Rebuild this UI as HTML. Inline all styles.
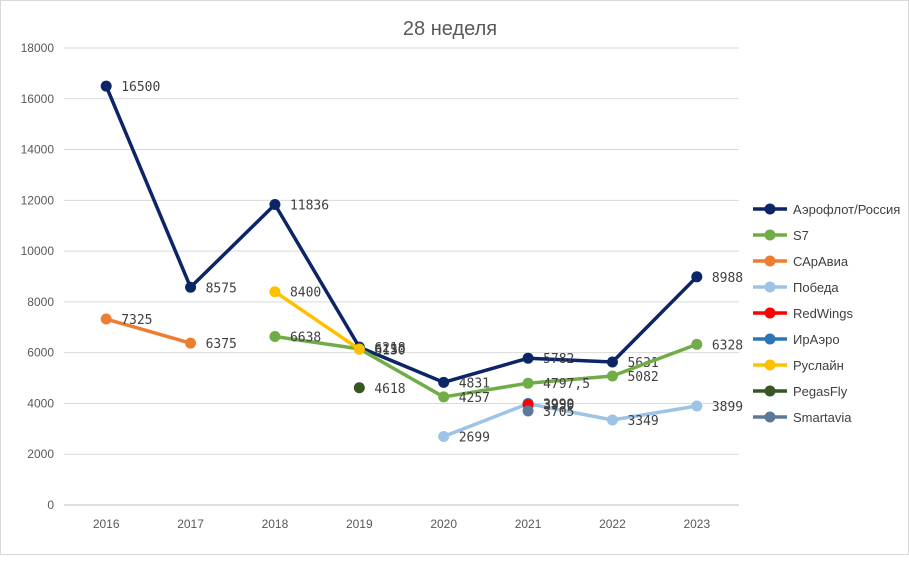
<!DOCTYPE html>
<html><head><meta charset="utf-8"><style>
body{margin:0;background:#fff;font-family:"Liberation Sans","DejaVu Sans",sans-serif}
#chart{position:absolute;left:0;top:0;width:909px;height:555px;border:1px solid #d9d9d9;box-sizing:border-box}
</style></head><body>
<div id="chart">
<svg id="svg" width="909" height="555"></svg>
</div>
<script>
const years=["2016","2017","2018","2019","2020","2021","2022","2023"];
const yTicks=[0,2000,4000,6000,8000,10000,12000,14000,16000,18000];
const seriesNames=["Аэрофлот/Россия","S7","САрАвиа","Победа","RedWings","ИрАэро","Руслайн","PegasFly","Smartavia"];
const seriesColors=["#0b2566","#70ad47","#ed7d31","#9dc3e6","#ff0000","#2e75b6","#ffc000","#375623","#5b7a9a"];
const aeroflot=[16500,8575,11836,6218,4831,5782,5631,8988];
const s7=[null,null,6638,6150,4257,4797.5,5082,6328];
const saravia=[7325,6375,null,null,null,null,null,null];
const pobeda=[null,null,null,null,2699,3990,3349,3899];
const redwings=[null,null,null,null,null,3950,null,null];
const iraero=[null,null,null,null,null,3999,null,null];
const ruslain=[null,null,8400,6130,null,null,null,null];
const pegasfly=[null,null,null,4618,null,null,null,null];
const smartavia=[null,null,null,null,null,3705,null,null];
const seriesData=[aeroflot,s7,saravia,pobeda,iraero,redwings,ruslain,pegasfly,smartavia];
const seriesIdx=[0,1,2,3,5,4,6,7,8];

const NS="http://www.w3.org/2000/svg";
const svg=document.getElementById('svg');
const L=63,R=738,T=47,B=504,yMax=18000;
const step=(R-L)/years.length;
const xS=i=>L+step*(i+0.5);
const yS=v=>B-(v/yMax)*(B-T);
function mk(tag,attrs,parent){const e=document.createElementNS(NS,tag);for(const k in attrs)e.setAttribute(k,attrs[k]);(parent||svg).appendChild(e);return e;}
function fmt(v){return String(v).replace('.',',');}

const title=mk('text',{x:449,y:34,'text-anchor':'middle','font-size':20,fill:'#595959'});
title.textContent='28 неделя';



yTicks.forEach(t=>{
  const g=mk('line',{x1:L,x2:R,y1:yS(t),y2:yS(t),stroke:t===0?'#bfbfbf':'#d9d9d9','stroke-width':1});
  
  
  const tx=mk('text',{x:L-10,y:yS(t)+4,'text-anchor':'end','font-size':12,fill:'#595959'});
  tx.textContent=t;
  
  
});
years.forEach((y,i)=>{
  const tx=mk('text',{x:xS(i),y:B+23,'text-anchor':'middle','font-size':12,fill:'#595959'});
  tx.textContent=y;
  
  
});

seriesData.forEach((d,k)=>{
  const si=seriesIdx[k];
  const c=seriesColors[si];
  const g=mk('g',{});
  
  
  let pts=[];
  d.forEach((v,i)=>{if(v!==null)pts.push([xS(i),yS(v)]);});
  if(pts.length>1){
    const p=mk('polyline',{points:pts.map(p=>p.join(',')).join(' '),fill:'none',stroke:c,'stroke-width':3.5,'stroke-linejoin':'round'},g);
    
    
  }
  d.forEach((v,i)=>{
    if(v===null)return;
    const m=mk('circle',{cx:xS(i),cy:yS(v),r:5.5,fill:c},g);
    
    
    const l=mk('text',{x:xS(i)+15,y:yS(v)+5,'font-size':13,fill:'#404040','font-family':'"DejaVu Sans Mono","Liberation Mono",monospace'},g);
    l.textContent=fmt(v);
    
    
  });
});

seriesNames.forEach((n,i)=>{
  const y=208+i*26;
  const g=mk('g',{});
  
  
  mk('line',{x1:752,x2:786,y1:y,y2:y,stroke:seriesColors[i],'stroke-width':3.5},g);
  mk('circle',{cx:769,cy:y,r:5.5,fill:seriesColors[i]},g);
  const t=mk('text',{x:792,y:y+5,'font-size':13,fill:'#404040'},g);
  t.textContent=n;
});
</script>
</body></html>
